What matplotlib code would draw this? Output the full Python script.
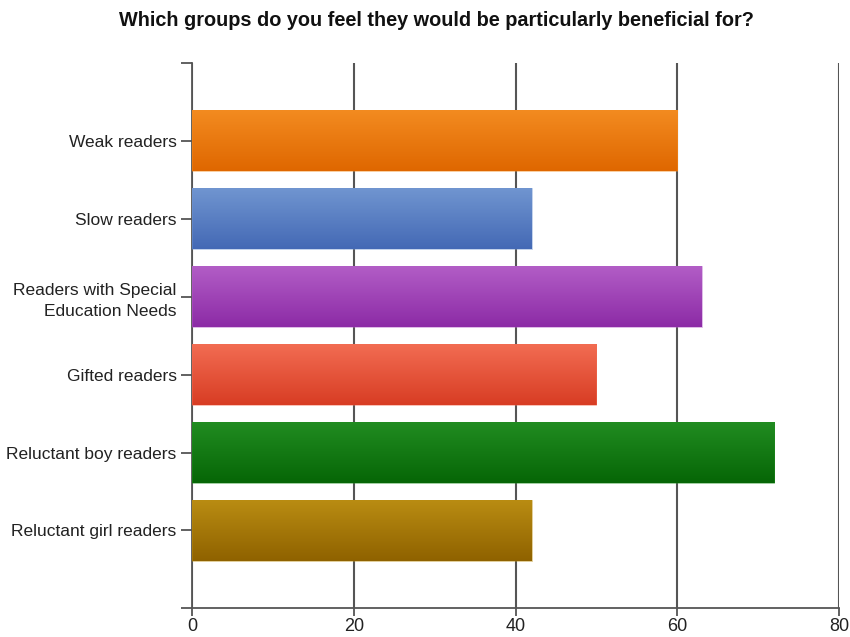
import numpy as np
import matplotlib.pyplot as plt
from matplotlib.colors import LinearSegmentedColormap

plt.rcParams['font.family'] = ['Liberation Sans', 'DejaVu Sans']

# data
categories = ["Weak readers", "Slow readers", "Readers with Special\nEducation Needs",
              "Gifted readers", "Reluctant boy readers", "Reluctant girl readers"]
values = [60, 42, 63, 50, 72, 42]
top_colors = ["#f38b20", "#7095d0", "#b25dc6", "#f26c52", "#218c21", "#b98c12"]
bottom_colors = ["#df6700", "#4469b5", "#8c2ba6", "#d83d24", "#066606", "#8f6200"]
xticks = [0, 20, 40, 60, 80]

fig = plt.figure(figsize=(8.5, 6.37), dpi=100)
ax = fig.add_axes([0.2259, 0.045, 0.7612, 0.8562])

ypos = np.arange(len(categories))
bars = ax.barh(ypos, values, height=0.78, color="none", edgecolor="none", zorder=3)

# gradient fill, lighter at the top of each bar
grad = np.linspace(0, 1, 100).reshape(-1, 1)
for b, c1, c2 in zip(bars, top_colors, bottom_colors):
    cmap = LinearSegmentedColormap.from_list("g", [c1, c2])
    x0, y0 = b.get_x(), b.get_y()
    w, h = b.get_width(), b.get_height()
    im = ax.imshow(grad, cmap=cmap, aspect="auto", extent=[x0, x0 + w, y0 + h, y0],
                   origin="upper", zorder=3)
    im.set_clip_path(b)
    ax.add_patch(plt.Rectangle((x0, y0), w, h, fill=False, edgecolor=c1,
                               linewidth=0.6, alpha=0.5, zorder=4))

ax.set_xlim(0, 80)
ax.set_ylim(6, -1)
ax.set_xticks(xticks)
ax.set_yticks(ypos)
ax.set_yticklabels(categories, fontsize=12.5, color="#222222", linespacing=1.45)
ax.set_yticks([-1, 6], minor=True)
ax.tick_params(axis="x", labelsize=13, colors="#222222", length=6, width=1.3,
               color="#555555", pad=1)
ax.tick_params(axis="y", which="both", length=8, width=1.3, color="#555555", pad=3)

ax.grid(axis="x", color="#555555", linewidth=1.5, zorder=1)
ax.set_axisbelow(True)
for s in ["top", "right"]:
    ax.spines[s].set_visible(False)
for s in ["left", "bottom"]:
    ax.spines[s].set_color("#555555")
    ax.spines[s].set_linewidth(1.3)

fig.suptitle("Which groups do you feel they would be particularly beneficial for?",
             fontsize=14.3, fontweight="bold", x=0.513, y=0.982, color="#111111")

fig.savefig("out.png", dpi=100)
